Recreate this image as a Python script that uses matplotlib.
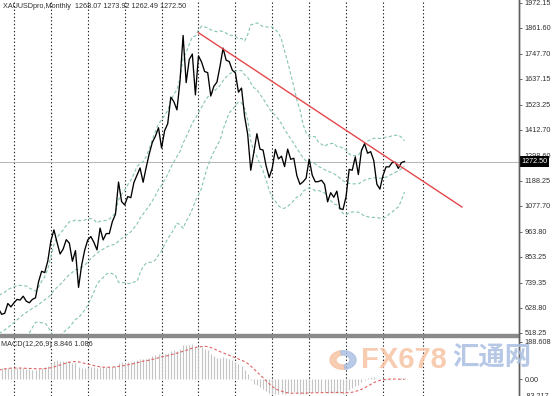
import matplotlib

matplotlib.use("Agg")
import matplotlib.pyplot as plt
from matplotlib.patches import Rectangle, Wedge
from matplotlib.lines import Line2D
from matplotlib.transforms import blended_transform_factory
import numpy as np
import pandas as pd

plt.rcParams["font.family"] = ["Liberation Sans", "DejaVu Sans"]

W, H = 552, 396

# XAUUSD monthly closes, Jan 2003 .. Aug 2017 (last bar still open)
close_2003 = [367, 347, 334, 336, 361, 346, 354, 375, 385, 384, 398, 416]
close_2004 = [400, 396, 424, 387, 394, 392, 391, 408, 416, 428, 453, 438]
close_2005 = [422, 435, 428, 435, 418, 436, 429, 433, 473, 470, 495, 513]
close_2006 = [569, 556, 582, 654, 643, 614, 633, 623, 599, 604, 647, 632]
close_2007 = [650, 665, 662, 679, 657, 650, 665, 672, 743, 789, 783, 834]
close_2008 = [923, 971, 916, 865, 887, 928, 913, 833, 880, 718, 815, 882]
close_2009 = [927, 942, 916, 883, 979, 927, 955, 955, 1008, 1040, 1182, 1096]
close_2010 = [1081, 1118, 1113, 1180, 1212, 1244, 1181, 1247, 1307, 1357, 1384, 1421]
close_2011 = [1332, 1409, 1439, 1556, 1536, 1500, 1628, 1828, 1620, 1722, 1746, 1566]
close_2012 = [1738, 1711, 1669, 1664, 1561, 1604, 1622, 1692, 1772, 1719, 1713, 1675]
close_2013 = [1663, 1578, 1596, 1472, 1393, 1234, 1313, 1395, 1327, 1323, 1253, 1202]
close_2014 = [1244, 1326, 1284, 1296, 1250, 1327, 1282, 1287, 1210, 1172, 1183, 1199]
close_2015 = [1283, 1212, 1183, 1184, 1190, 1172, 1095, 1135, 1115, 1142, 1065, 1061]
close_2016 = [1118, 1238, 1234, 1293, 1215, 1321, 1351, 1309, 1316, 1277, 1173, 1151]
close_2017 = [1211, 1249, 1249, 1268, 1269, 1242, 1268, 1272.5]

price_ticks = [1972.15, 1861.60, 1747.70, 1637.15, 1523.25, 1412.70, 1298.60,
               1188.25, 1077.70, 963.80, 853.25, 739.35, 628.80, 518.25]
macd_ticks = [188.608, 0.0, -83.217]
macd_labels = ["188.608", "0.00", "-83.217"]
year_grid = [48, 60, 72, 84, 96, 108, 120, 132, 144, 156, 168, 181]
trend_x = [108, 193.7]
trend_y = [1840, 1072]
last_price = 1272.50
header = "XAUUSDpro,Monthly  1268.07 1273.92 1262.49 1272.50"
macd_header = "MACD(12,26,9) 8.846 1.086"

closes = pd.Series(close_2003 + close_2004 + close_2005 + close_2006 + close_2007
                   + close_2008 + close_2009 + close_2010 + close_2011 + close_2012
                   + close_2013 + close_2014 + close_2015 + close_2016 + close_2017)
bars = np.arange(len(closes))

# indicators the terminal draws: Bollinger(20,2) and MACD(12,26,9)
bb_mid = closes.rolling(20).mean()
bb_dev = closes.rolling(20).std(ddof=0)
macd = closes.ewm(span=12, adjust=False).mean() - closes.ewm(span=26, adjust=False).mean()
signal = macd.rolling(9).mean()

fig = plt.figure(figsize=(W / 100, H / 100), dpi=100)
fig.patch.set_facecolor("white")


def px_axes(x0, y0, x1, y1):
    return fig.add_axes([x0 / W, 1 - y1 / H, (x1 - x0) / W, (y1 - y0) / H])


# bar i sits at pixel -1.4 + 3.075*(i - 43)
xl = (43 + 1.4 / 3.075, 43 + 520.4 / 3.075)
ax = px_axes(0, 0, 519, 333.5)
axm = px_axes(0, 337, 519, 396)

grid_kw = dict(color="#202020", lw=0.8, ls=(0, (1.2, 2.0)), zorder=1)
for a in (ax, axm):
    a.set_xlim(*xl)
    for g in year_grid:
        a.axvline(g, **grid_kw)
    a.set_xticks([])
    for side in ("top", "left", "bottom"):
        a.spines[side].set_visible(False)
    a.spines["right"].set_color("#606060")
    a.spines["right"].set_linewidth(1.0)
    a.yaxis.tick_right()
    a.tick_params(axis="y", length=2.5, width=0.6, color="#505050",
                  labelsize=5.2, labelcolor="#303030", pad=1.5)

# main price window
ax.set_ylim(514.7, 1984.1)
ax.set_yticks(price_ticks)
ax.set_yticklabels([f"{v:.2f}" for v in price_ticks])
ax.axhline(last_price, color="#b4b4b4", lw=0.7, zorder=2)
bb_kw = dict(color="#86c5ae", lw=0.8, ls=(0, (3, 2)), zorder=3)
ax.plot(bars, bb_mid + 2 * bb_dev, **bb_kw)
ax.plot(bars, bb_mid, **bb_kw)
ax.plot(bars, bb_mid - 2 * bb_dev, **bb_kw)
ax.plot(bars, closes, color="black", lw=0.95, zorder=4)
ax.plot(trend_x, trend_y, color="#e4474b", lw=1.0, zorder=5)
tr = blended_transform_factory(ax.transAxes, ax.transData)
ax.text(1.004, last_price, f"{last_price:.2f}", transform=tr, fontsize=5.2,
        color="white", va="center", ha="left", zorder=10, clip_on=False,
        bbox=dict(facecolor="black", edgecolor="none", pad=1.2))
fig.text(3 / W, 1 - 6.5 / H, header, fontsize=5.2, color="#303030", va="center")

# MACD window
axm.set_ylim(-78.8, 211.75)
axm.set_yticks(macd_ticks)
axm.set_yticklabels(macd_labels)
axm.vlines(bars, 0, macd, color="#c4c4c4", lw=0.8, zorder=2)
axm.plot(bars, signal, color="#e06262", lw=0.8, ls=(0, (2.5, 2)), zorder=3)
axm.text(0.002, 0.88, macd_header, transform=axm.transAxes, fontsize=5.2,
         color="#303030", va="center")

# panel separator and continuous scale line
fig.patches.append(Rectangle((0, 1 - 337 / H), 519 / W, 3.3 / H,
                             transform=fig.transFigure, color="#8a8a8a"))
fig.lines.append(Line2D([519 / W] * 2, [0, 1], transform=fig.transFigure,
                        color="#606060", lw=1.0))

# site watermark
fig.patches.append(Wedge((343 / W, 1 - 360 / H), 13 / W, 100, 280, width=6 / W,
                         transform=fig.transFigure, color="#f6c2a0", alpha=0.8))
fig.patches.append(Wedge((343 / W, 1 - 360 / H), 13 / W, -80, 100, width=6 / W,
                         transform=fig.transFigure, color="#a9bfe2", alpha=0.8))
fig.text(361 / W, 1 - 360 / H, "FX678", fontsize=21, fontweight="bold",
         color="#f6c4a4", alpha=0.85, va="center", ha="left")
fig.text(452 / W, 1 - 358 / H, "汇通网", fontsize=19, fontweight="bold",
         family=["Noto Sans CJK SC", "DejaVu Sans"],
         color="#a9bfe2", alpha=0.85, va="center", ha="left")

fig.savefig("out.png", dpi=100)
